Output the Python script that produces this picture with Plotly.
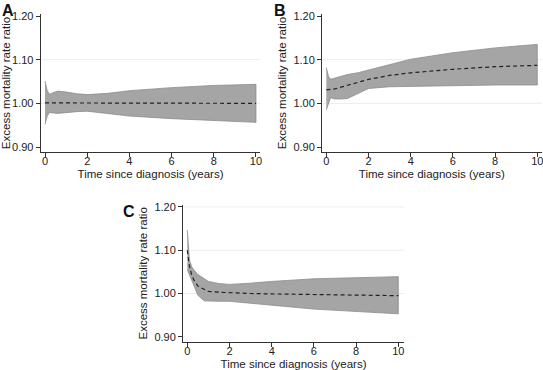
import plotly.graph_objects as go

# ---------------- data ----------------
# Panel A
a_t = [0, 0.1, 0.2, 0.4, 0.6, 1, 1.5, 2, 3, 4, 6, 8, 10]
a_est = [1.001, 1.001, 1.001, 1.001, 1.001, 1.001, 1.000, 1.000, 1.000, 1.000, 1.000, 1.000, 1.000]
a_up = [1.051, 1.030, 1.021, 1.025, 1.028, 1.026, 1.022, 1.020, 1.023, 1.029, 1.036, 1.041, 1.0435]
a_lo = [0.952, 0.970, 0.979, 0.978, 0.977, 0.979, 0.981, 0.982, 0.977, 0.971, 0.965, 0.960, 0.9565]

# Panel B
b_t = [0, 0.1, 0.2, 0.4, 0.7, 1, 1.5, 2, 3, 4, 6, 8, 10]
b_est = [1.031, 1.031, 1.032, 1.033, 1.037, 1.041, 1.048, 1.055, 1.064, 1.070, 1.078, 1.084, 1.087]
b_up = [1.082, 1.062, 1.055, 1.058, 1.063, 1.066, 1.070, 1.076, 1.089, 1.101, 1.116, 1.127, 1.135]
b_lo = [0.985, 1.000, 1.013, 1.010, 1.010, 1.011, 1.022, 1.034, 1.038, 1.040, 1.041, 1.042, 1.042]

# Panel C
c_t = [0, 0.05, 0.1, 0.2, 0.3, 0.5, 0.8, 1, 1.5, 2, 3, 4, 6, 8, 10]
c_est = [1.100, 1.078, 1.063, 1.044, 1.032, 1.017, 1.009, 1.005, 1.003, 1.0015, 1.000, 0.999, 0.998, 0.996, 0.995]
c_up = [1.147, 1.100, 1.078, 1.063, 1.055, 1.044, 1.034, 1.028, 1.023, 1.021, 1.024, 1.028, 1.034, 1.037, 1.039]
c_lo = [1.055, 1.050, 1.047, 1.032, 1.021, 0.996, 0.983, 0.982, 0.982, 0.982, 0.978, 0.973, 0.964, 0.958, 0.953]

y_ticks = [0.90, 1.00, 1.10, 1.20]
x_ticks = [0, 2, 4, 6, 8, 10]
grid_ab = [1.00, 1.10]
grid_c = [1.00, 1.10, 1.20]
panel_labels = ["A", "B", "C"]
x_title = "Time since diagnosis (years)"
y_title = "Excess mortality rate ratio"

W, H = 543, 370
FONT = "Liberation Sans, Arial, sans-serif"

fig = go.Figure()

panels = [
    (a_t, a_est, a_up, a_lo, grid_ab, 40.8, 260.2, 14.0, 152.0),
    (b_t, b_est, b_up, b_lo, grid_ab, 322.1, 541.5, 14.0, 152.0),
    (c_t, c_est, c_up, c_lo, grid_c, 183.1, 404.0, 205.0, 341.7),
]

for i, (t, est, up, lo, grid, x0, x1, ytop, ybot) in enumerate(panels):
    n = i + 1
    xa = "x" if n == 1 else f"x{n}"
    ya = "y" if n == 1 else f"y{n}"
    for g in grid:
        fig.add_shape(type="line", xref=f"{xa} domain", yref=ya, x0=0, x1=1, y0=g, y1=g,
                      line=dict(color="#ececec", width=1), layer="below")
    fig.add_trace(go.Scatter(
        x=list(t) + list(t)[::-1], y=list(up) + list(lo)[::-1],
        fill="toself", fillcolor="#a5a5a5", mode="lines",
        line=dict(color="#8c8c8c", width=0.8),
        hoverinfo="skip", showlegend=False, xaxis=xa, yaxis=ya))
    fig.add_trace(go.Scatter(
        x=t, y=est, mode="lines",
        line=dict(color="#222222", width=1.2, dash="4px,3px"),
        showlegend=False, xaxis=xa, yaxis=ya))

    xr_hi = 10.2 if n < 3 else 10.27
    ax = dict(domain=[x0 / W, x1 / W], range=[-0.2, xr_hi], tickvals=x_ticks,
              showline=True, linecolor="#333333", linewidth=1.2, ticks="outside",
              ticklen=4, tickcolor="#333333", showgrid=False, zeroline=False,
              ticklabelstandoff=-5, ticklabeloverflow="allow",
              tickfont=dict(family=FONT, size=11, color="#222"),
              title=dict(text=x_title, font=dict(family=FONT, size=11.5, color="#222"), standoff=3),
              anchor=ya, fixedrange=True, automargin=False)
    yr_hi = 1.2046 if n < 3 else 1.2046
    ay = dict(domain=[(H - ybot) / H, (H - ytop) / H], range=[0.8886, yr_hi],
              tickvals=y_ticks, tickformat=".2f",
              showline=True, linecolor="#333333", linewidth=1.2, ticks="outside",
              ticklen=4, tickcolor="#333333", showgrid=False,
              zeroline=False, ticklabeloverflow="allow",
              tickfont=dict(family=FONT, size=11, color="#222"),
              title=dict(text=y_title, font=dict(family=FONT, size=11.5, color="#222"), standoff=4),
              anchor=xa, fixedrange=True, automargin=False)
    fig.layout["xaxis" if n == 1 else f"xaxis{n}"] = ax
    fig.layout["yaxis" if n == 1 else f"yaxis{n}"] = ay

label_pos = [(0, 0), (272, 0), (121, 201)]
for lab, (lx, ly) in zip(panel_labels, label_pos):
    fig.add_annotation(text=f"<b>{lab}</b>", x=lx / W, y=1 - ly / H, xref="paper", yref="paper",
                       xanchor="left", yanchor="top", showarrow=False,
                       font=dict(family=FONT, size=16, color="#111"))

fig.update_layout(width=W, height=H, margin=dict(l=0, r=0, t=0, b=0),
                  paper_bgcolor="white", plot_bgcolor="white")

fig.write_html("out.html", config={"displayModeBar": False},
               post_script="document.body.style.margin='0px';document.body.style.overflow='hidden';")
